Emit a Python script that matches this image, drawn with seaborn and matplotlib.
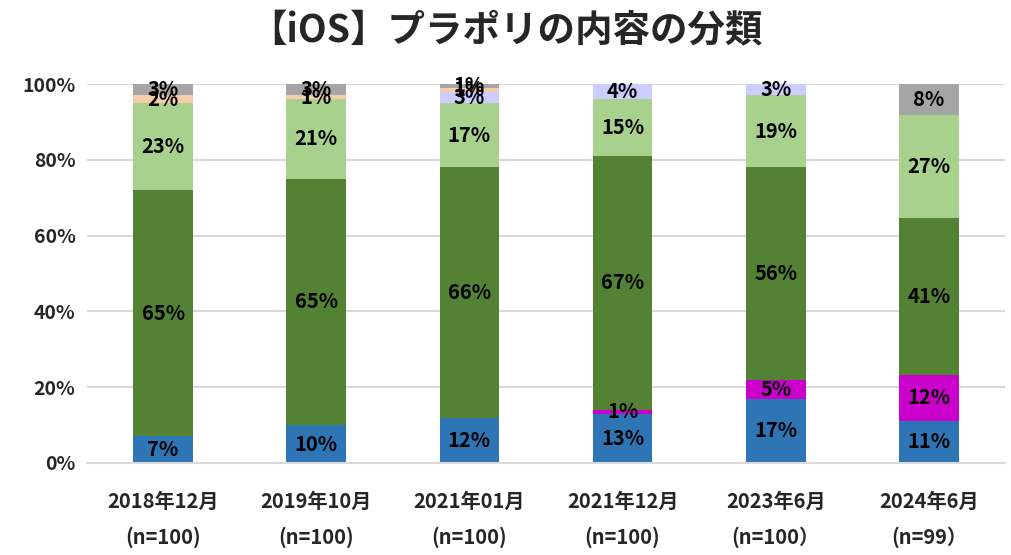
import numpy as np
import pandas as pd
from matplotlib import pyplot as plt
import seaborn as sns

periods = ['2018年12月\n(n=100)', '2019年10月\n(n=100)', '2021年01月\n(n=100)',
           '2021年12月\n(n=100)', '2023年6月\n(n=100）', '2024年6月\n(n=99）']
n_total = [100, 100, 100, 100, 100, 99]

# counts per category, bottom to top of each stack
blue = [7, 10, 12, 13, 17, 11]
magenta = [0, 0, 0, 1, 5, 12]
dark_green = [65, 65, 66, 67, 56, 41]
light_green = [23, 21, 17, 15, 19, 27]
lavender = [0, 0, 3, 4, 3, 0]
peach = [2, 1, 1, 0, 0, 0]
gray = [3, 3, 1, 0, 0, 8]

series = [blue, magenta, dark_green, light_green, lavender, peach, gray]
colors = ['#2E75B6', '#CC00CC', '#548235', '#A9D18E', '#CCCCFF', '#F8CBAD', '#A5A5A5']

sns.set_style('white')
plt.rcParams['font.family'] = ['Noto Sans CJK JP', 'DejaVu Sans']
plt.rcParams['font.weight'] = 'bold'

pct = np.array(series, dtype=float) / np.array(n_total) * 100
cum = np.cumsum(pct, axis=0)

fig = plt.figure(figsize=(10.12, 5.55), dpi=100)
ax = fig.add_axes([0.0855, 0.1658, 0.908, 0.6828])

ax.set_axisbelow(True)
ax.yaxis.grid(True, color='#D9D9D9', linewidth=1.5)

# draw cumulative totals from top down so each segment shows its own colour
for i in range(len(series) - 1, -1, -1):
    df = pd.DataFrame({'period': periods, 'value': cum[i]})
    sns.barplot(data=df, x='period', y='value', color=colors[i], width=0.39,
                saturation=1, ax=ax, linewidth=0)

for i, s in enumerate(series):
    for j, v in enumerate(s):
        if v > 0:
            y = cum[i][j] - pct[i][j] / 2
            ax.text(j, y, f'{v}%', ha='center', va='center', fontsize=14.5,
                    fontweight='bold', color='black')

ax.set_xlim(-0.5, 5.5)
ax.set_ylim(0, 100)
ax.set_yticks(range(0, 101, 20))
ax.set_yticklabels([f'{t}%' for t in range(0, 101, 20)], fontsize=14, fontweight='bold')
ax.set_xticks(range(len(periods)))
ax.set_xticklabels(periods, fontsize=14.5, fontweight='bold', linespacing=1.85)
ax.tick_params(axis='both', length=0, pad=8)
ax.tick_params(axis='x', pad=20)
ax.set_xlabel('')
ax.set_ylabel('')
for side in ['top', 'right', 'left']:
    ax.spines[side].set_visible(False)
ax.spines['bottom'].set_color('#D9D9D9')
ax.spines['bottom'].set_linewidth(1.5)

fig.text(0.5, 0.945, '【iOS】プラポリの内容の分類', ha='center', va='center',
         fontsize=27, fontweight='bold')

fig.savefig('out.png', dpi=100)
